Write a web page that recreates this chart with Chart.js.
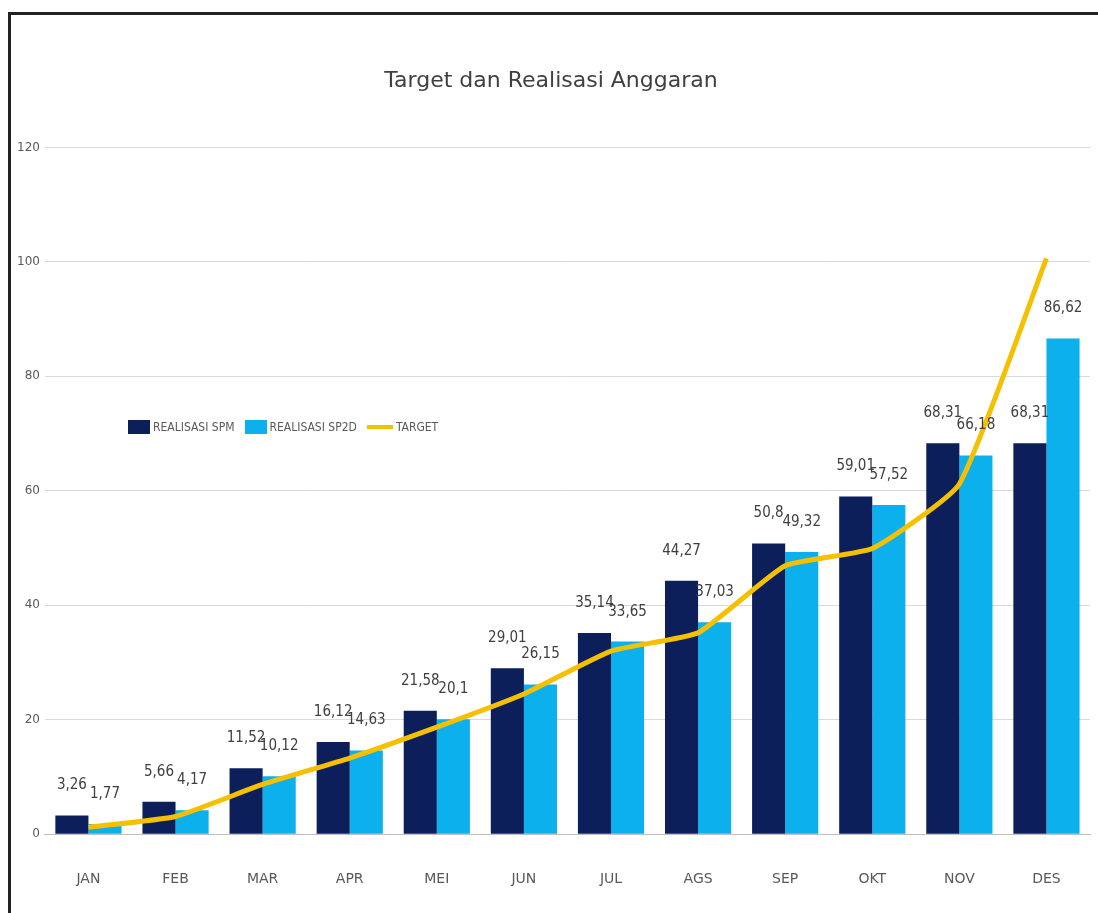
<!DOCTYPE html>
<html>
<head>
<meta charset="utf-8">
<script src="https://cdn.jsdelivr.net/npm/chart.js@4.4.0/dist/chart.umd.min.js"></script>
<style>
  body { margin: 0; background: #fff; }
  #wrap { position: relative; width: 1098px; height: 913px; overflow: hidden; }
  #frame { position: absolute; left: 8px; top: 12px; width: 1200px; height: 1000px;
    border-left: 3px solid #222; border-top: 3px solid #222; }
  #myChart { position: absolute; left: 0; top: 0; }
  #legend { position: absolute; left: 128px; top: 420px; font: 12px 'DejaVu Sans', sans-serif; font-stretch: condensed;
    color: #595959; display: flex; align-items: center; }
  #legend span.box { display: inline-block; width: 22px; height: 14px; margin-right: 3px; }
  #legend span.txt { margin-right: 10px; }
  #legend span.ln { display: inline-block; width: 26px; height: 4px; background: #f5c000; margin-right: 3px; }
</style>
</head>
<body>
<div id="wrap">
  <div id="frame"></div>
  <canvas id="myChart" width="1098" height="913"></canvas>
  <div id="legend">
    <span class="box" style="background:#0c1f5b"></span><span class="txt">REALISASI SPM</span>
    <span class="box" style="background:#0cb0ec"></span><span class="txt">REALISASI SP2D</span>
    <span class="ln"></span><span class="txt">TARGET</span>
  </div>
</div>
<script>
'use strict'
const months = ['JAN', 'FEB', 'MAR', 'APR', 'MEI', 'JUN', 'JUL', 'AGS', 'SEP', 'OKT', 'NOV', 'DES']
const realisasiSpm = [3.26, 5.66, 11.52, 16.12, 21.58, 29.01, 35.14, 44.27, 50.8, 59.01, 68.31, 68.31]
const realisasiSp2d = [1.77, 4.17, 10.12, 14.63, 20.1, 26.15, 33.65, 37.03, 49.32, 57.52, 66.18, 86.62]
const target = [1.2, 3.1, 8.7, 13.3, 18.7, 24.5, 32, 35.2, 46.9, 49.9, 61.2, 100.6]
const yTicks = [0, 20, 40, 60, 80, 100, 120]

const fontFam = "'DejaVu Sans', sans-serif"

//Etiquetas encima de las barras
const barLabels = {
  id: 'barLabels',
  afterDatasetsDraw(chart) {
    const ctx = chart.ctx
    ctx.save()
    ctx.font = '15px ' + fontFam
    if ('fontStretch' in ctx) ctx.fontStretch = 'condensed'
    ctx.fillStyle = '#404040'
    ctx.textAlign = 'center'
    ctx.textBaseline = 'middle'
    chart.data.datasets.forEach((ds, i) => {
      if (ds.type === 'line') return
      chart.getDatasetMeta(i).data.forEach((bar, j) => {
        const txt = String(ds.data[j]).replace('.', ',')
        ctx.fillText(txt, bar.x, bar.y - 30)
      })
    })
    ctx.restore()
  },
}

const ctx = document.getElementById('myChart').getContext('2d')
const myChart = new Chart(ctx, {
  type: 'bar',
  data: {
    labels: months,
    datasets: [
      {
        type: 'line',
        label: 'TARGET',
        data: target,
        borderColor: '#f5c000',
        borderWidth: 5,
        pointRadius: 0,
        tension: 0.15,
        order: 0,
      },
      {
        label: 'REALISASI SPM',
        data: realisasiSpm,
        backgroundColor: '#0c1f5b',
        order: 1,
      },
      {
        label: 'REALISASI SP2D',
        data: realisasiSp2d,
        backgroundColor: '#0cb0ec',
        order: 1,
      },
    ],
  },
  options: {
    responsive: false,
    devicePixelRatio: 1,
    animation: false,
    layout: { padding: { top: 68, left: 12, right: 8, bottom: -4 } },
    datasets: { bar: { categoryPercentage: 0.76, barPercentage: 1 } },
    plugins: {
      legend: { display: false },
      tooltip: { enabled: false },
      title: {
        display: true,
        text: 'Target dan Realisasi Anggaran',
        color: '#404040',
        font: { family: fontFam, size: 22, weight: 'normal' },
        padding: { top: 0, bottom: 53 },
      },
    },
    scales: {
      x: {
        grid: { display: false },
        border: { color: '#bfbfbf' },
        ticks: { color: '#595959', font: { family: fontFam, size: 14 }, padding: 29 },
      },
      y: {
        min: 0,
        max: 120,
        afterBuildTicks: (axis) => { axis.ticks = yTicks.map((v) => ({ value: v })) },
        grid: { color: '#d9d9d9', drawTicks: false },
        border: { display: false },
        ticks: { color: '#595959', font: { family: fontFam, size: 12 }, padding: 5 },
      },
    },
  },
  plugins: [barLabels],
})
</script>
</body>
</html>
